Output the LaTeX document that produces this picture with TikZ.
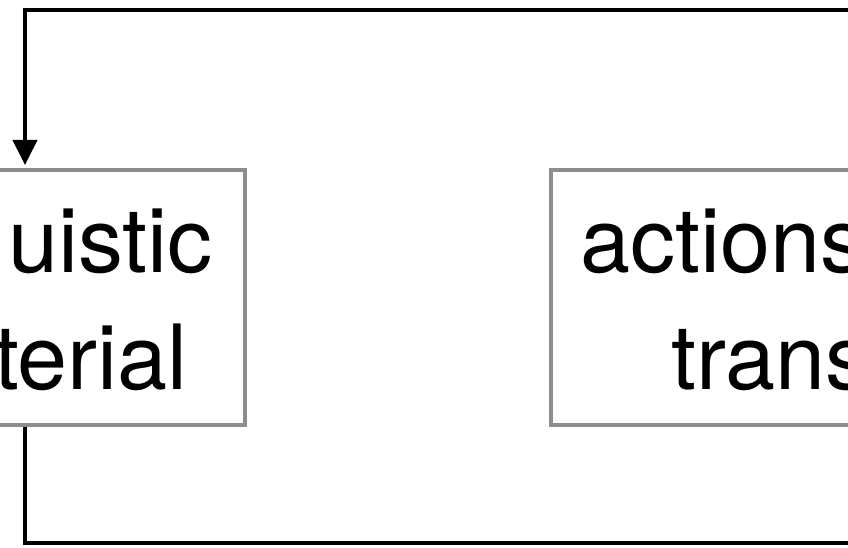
\documentclass[tikz,border=0pt]{standalone}
\usepackage{fontspec}
\setmainfont{TeX Gyre Heros}
\usepackage{xcolor}
\usetikzlibrary{positioning, arrows.meta, calc}
\definecolor{boxgray}{HTML}{8A8D91}
\definecolor{linkblack}{HTML}{000000}

\begin{document}
\begin{tikzpicture}[
      x=1pt, y=1pt,
      procbox/.style={rectangle, draw=boxgray, fill=white, line width=4pt,
        minimum height=255pt, inner sep=0pt},
      boxtext/.style={inner sep=0pt, font=\fontsize{90}{117}\selectfont, text=black},
      feedback/.style={line width=4pt, color=linkblack},
      feedarrow/.style={feedback, -{Triangle[length=25pt, width=24pt]}, shorten >=3pt}
    ]
    \useasboundingbox (0,0) rectangle (848,548);
    \clip (0,0) rectangle (848,548);
    % Boxes
    \node[procbox, minimum width=395pt] (ling) at (47.5, 250.5) {};
    \node[procbox, minimum width=449pt] (act) at (775.5, 250.5) {};
    \node[boxtext, anchor=base east] (ling1) at (213, 275) {uistic};
    \node[boxtext, anchor=base east] (ling2) at (188, 158) {terial};
    \node[boxtext, anchor=base west] (act1) at (580, 275) {actions};
    \node[boxtext, anchor=base west] (act2) at (671, 158) {trans};
    % Feedback loop
    \coordinate (drop) at (25, 0);
    \coordinate (topin) at (900, 538);
    \coordinate (botout) at (900, 5);
    \draw[feedarrow] (topin) -| (ling.north -| drop);
    \draw[feedback] (ling.south -| drop) |- (botout);
\end{tikzpicture}
\end{document}
